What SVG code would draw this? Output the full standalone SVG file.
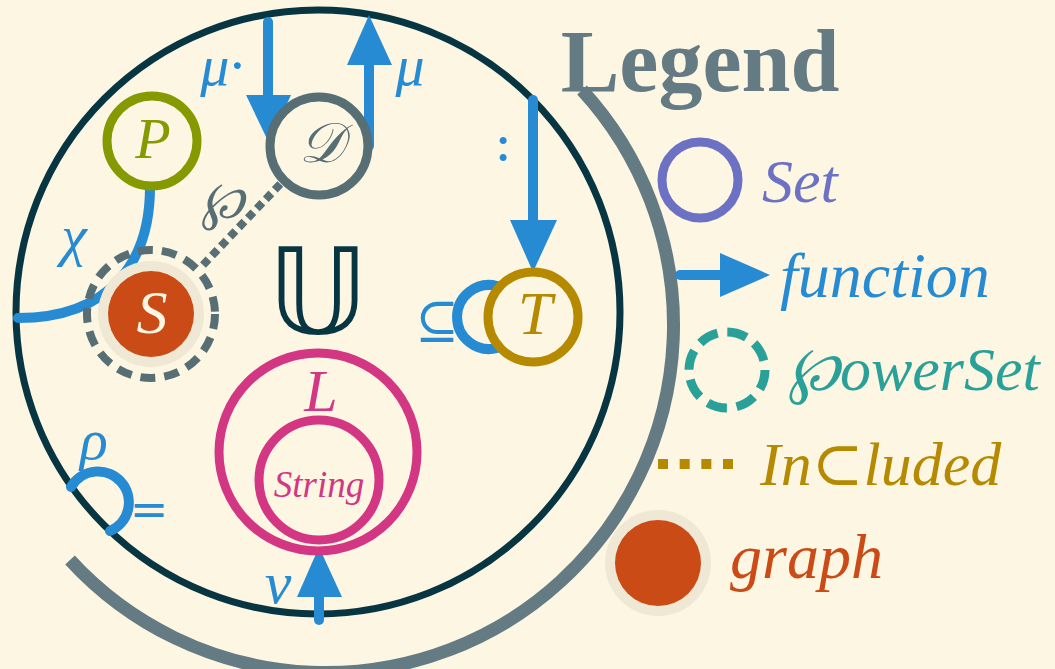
<svg xmlns="http://www.w3.org/2000/svg" width="1055" height="669" viewBox="0 0 1055 669">
<style>
.t{font-family:"Liberation Serif","DejaVu Serif",serif;font-style:italic;text-anchor:middle}
.ts{font-family:"Liberation Serif","DejaVu Serif",serif;font-style:italic;text-anchor:start;font-size:62px}
.m{font-family:"DejaVu Serif","DejaVu Sans",serif;text-anchor:middle}
.blue{fill:#268bd2}
.fn{fill:none;stroke:#268bd2;stroke-width:10;stroke-linecap:round}
.ring{fill:none;stroke-width:9}
</style>
<rect width="1055" height="669" fill="#fdf6e3"/>
<path d="M582,90 A345,345 0 0 1 70,560" fill="none" stroke="#657b83" stroke-width="13"/>
<g id="universe">
<circle cx="318" cy="312" r="302" fill="none" stroke="#073642" stroke-width="7"/>
<text x="318" y="333" font-family="DejaVu Sans,sans-serif" font-size="120" text-anchor="middle" fill="#073642">𝕌</text>
</g>
<g id="connectors">
<line x1="203" y1="265" x2="286" y2="178" stroke="#586e75" stroke-width="8" stroke-dasharray="8 5"/>
<text class="t" x="222" y="218" font-size="52" fill="#586e75">℘</text>
<path class="fn" d="M268,22 L268,100"/>
<path d="M246,95 L291,95 L269,143 Z" fill="#268bd2"/>
<text class="t blue" x="222" y="85" font-size="58">μ·</text>
<path class="fn" d="M369,146 L369,60"/>
<path d="M347,65 L392,65 L369,15 Z" fill="#268bd2"/>
<text class="t blue" x="410" y="85" font-size="58">μ</text>
<path class="fn" d="M533,100 L533,225"/>
<path d="M510,220 L557,220 L533,272 Z" fill="#268bd2"/>
<text class="m blue" x="503" y="160" font-size="54">:</text>
<path class="fn" d="M497,286 A32,32 0 1 0 497,348"/>
<text class="m blue" x="437" y="338" font-size="52">⊆</text>
<path class="fn" d="M150,187 C150,262 110,318 18,318"/>
<text class="t blue" x="74" y="255" font-size="58">χ</text>
<path class="fn" d="M71,487 A31,31 0 1 1 110,531"/>
<text class="t blue" x="94" y="459" font-size="58">ρ</text>
<text class="m blue" x="149" y="525" font-size="46">=</text>
<path class="fn" d="M319,620 L319,595"/>
<path d="M297,597 L342,597 L319,547 Z" fill="#268bd2"/>
<text class="t blue" x="278" y="603" font-size="60">ν</text>
</g>
<g id="node-P">
<circle class="ring" cx="152" cy="141" r="45" stroke="#859900"/>
<text class="t" x="153" y="158" font-size="58" fill="#859900">P</text>
</g>
<g id="node-D">
<circle class="ring" cx="319" cy="146" r="49" stroke="#586e75"/>
<text class="t" x="321" y="162" font-size="56" fill="#586e75">𝒟</text>
</g>
<g id="node-S">
<circle cx="151" cy="314" r="64" fill="none" stroke="#586e75" stroke-width="8" stroke-dasharray="15 9"/>
<circle cx="151" cy="314" r="53" fill="#eee8d5"/>
<circle cx="151" cy="314" r="43" fill="#cb4b16"/>
<text class="t" x="152" y="333" font-size="62" fill="#fdf6e3">S</text>
</g>
<g id="node-T">
<circle class="ring" cx="533" cy="317" r="45" stroke="#b58900"/>
<text class="t" x="535" y="334" font-size="62" fill="#b58900">T</text>
</g>
<g id="node-L">
<circle class="ring" cx="318" cy="452" r="99" stroke="#d33682"/>
<text class="t" x="321" y="411" font-size="60" fill="#d33682">L</text>
</g>
<g id="node-String">
<circle class="ring" cx="319" cy="480" r="60" stroke="#d33682"/>
<text class="t" x="319" y="497" font-size="37" fill="#d33682">String</text>
</g>
<g id="legend">
<text x="700" y="91" font-family="Liberation Serif,serif" font-weight="bold" font-size="88" text-anchor="middle" fill="#657b83">Legend</text>
<circle cx="700" cy="180" r="38" fill="none" stroke="#6c71c4" stroke-width="9"/>
<text class="ts" x="762" y="202" fill="#6c71c4">Set</text>
<path class="fn" d="M680,275 L725,275"/>
<path d="M720,253 L770,275 L720,297 Z" fill="#268bd2"/>
<text class="ts" x="780" y="297" fill="#268bd2" style="font-size:64px">function</text>
<circle cx="727" cy="370" r="38" fill="none" stroke="#2aa198" stroke-width="9" stroke-dasharray="20 9.85"/>
<text class="ts" x="788" y="390" fill="#2aa198">℘owerSet</text>
<line x1="658" y1="464" x2="733" y2="464" stroke="#b58900" stroke-width="10" stroke-dasharray="10 11.67"/>
<text class="ts" x="760" y="485" fill="#b58900">In⊂luded</text>
<circle cx="658" cy="563" r="53" fill="#eee8d5"/>
<circle cx="658" cy="563" r="43" fill="#cb4b16"/>
<text class="ts" x="730" y="578" fill="#cb4b16" style="font-size:64px">graph</text>
</g>
</svg>
